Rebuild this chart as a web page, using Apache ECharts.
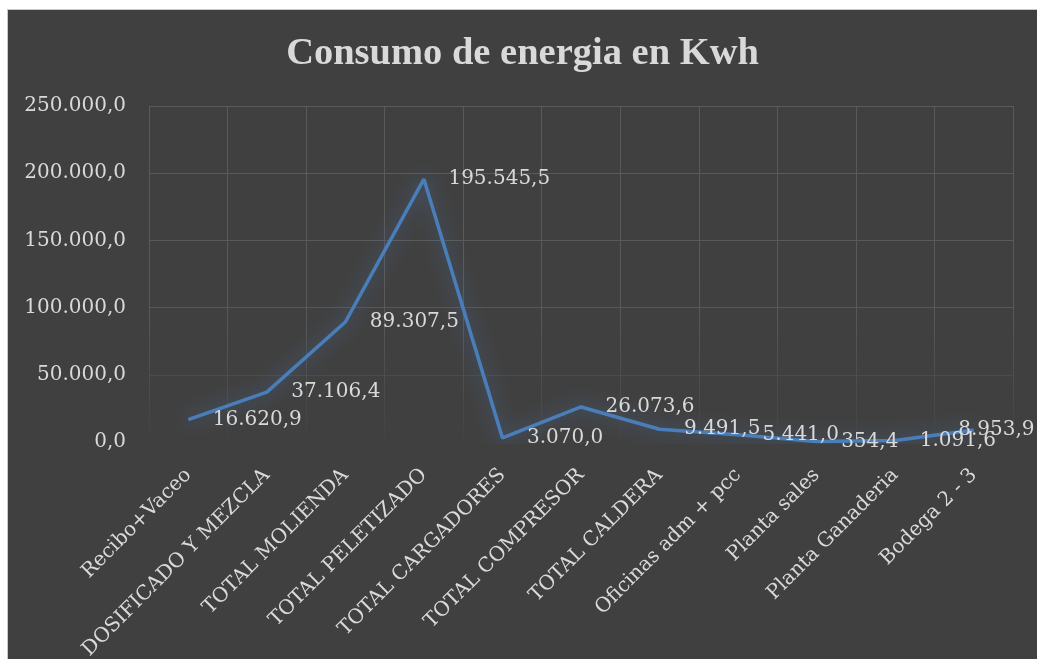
<!DOCTYPE html>
<html><head><meta charset="utf-8">
<script src="https://cdn.jsdelivr.net/npm/echarts@6/dist/echarts.min.js"></script>
<style>
html,body{margin:0;padding:0;background:#fff;width:1037px;height:659px;overflow:hidden}
#c{position:absolute;left:7px;top:9px;width:1030px;height:650px;background:#404040;border-top:1px solid #c8c8c8;border-left:1px solid #c8c8c8;box-sizing:border-box}
</style></head>
<body><div id="c"></div>
<script>
const categories = ["Recibo+Vaceo","DOSIFICADO Y MEZCLA","TOTAL MOLIENDA","TOTAL PELETIZADO","TOTAL CARGADORES","TOTAL COMPRESOR","TOTAL CALDERA","Oficinas adm + pcc","Planta sales","Planta Ganaderia","Bodega 2 - 3"];
const values = [16620.9, 37106.4, 89307.5, 195545.5, 3070.0, 26073.6, 9491.5, 5441.0, 354.4, 1091.6, 8953.9];
const title = "Consumo de energia en Kwh";

function fmt(v){
  const p = v.toFixed(1).split('.');
  const i = p[0].replace(/\B(?=(\d{3})+(?!\d))/g,'.');
  return i + ',' + p[1];
}
const serif = '"DejaVu Serif", serif';
const chart = echarts.init(document.getElementById('c'), null, {renderer:'canvas'});
chart.setOption({
  backgroundColor:'transparent',
  animation:false,
  title:{text:title,left:'center',top:20,textStyle:{fontFamily:'"Liberation Serif", serif',fontWeight:'bold',fontSize:38.5,color:'#d9d9d9'}},
  grid:{left:141,top:96,width:864,height:336,containLabel:false,outerBoundsMode:'none'},
  xAxis:{type:'category',data:categories,boundaryGap:true,
    axisLine:{show:false},axisTick:{show:false},
    splitLine:{show:true,lineStyle:{width:1,color:{type:'linear',x:0,y:96,x2:0,y2:434,global:true,
      colorStops:[{offset:0,color:'#5a5a5a'},{offset:0.6,color:'#595959'},{offset:0.85,color:'#4b4b4b'},{offset:1,color:'#414141'}]}}},
    axisLabel:{rotate:45,margin:30,interval:0,color:'#d9d9d9',fontFamily:serif,fontSize:20}},
  yAxis:{type:'value',min:0,max:250000,interval:50000,
    axisLine:{show:false},axisTick:{show:false},
    splitLine:{lineStyle:{width:1,color:['#414141','#4b4b4b','#575757','#5a5a5a','#5a5a5a','#5a5a5a']}},
    axisLabel:{formatter:fmt,margin:23,color:'#d9d9d9',fontFamily:serif,fontSize:20}},
  series:[{type:'line',data:values,symbol:'circle',symbolSize:1,showSymbol:true,smooth:false,
    itemStyle:{color:'#4a7ebb',opacity:0},
    lineStyle:{color:'#4a7ebb',width:3.5,shadowColor:'rgba(74,126,187,0.7)',shadowBlur:18},
    label:{show:true,position:'right',distance:24,offset:[0,3],formatter:p=>fmt(p.value),color:'#d9d9d9',fontFamily:serif,fontSize:20,opacity:1},
    labelLayout:function(params){
      if (params.dataIndex === values.length - 1) return {dx:-40, hideOverlap:false};
      return {hideOverlap:false};
    }
  }]
});
</script></body></html>
